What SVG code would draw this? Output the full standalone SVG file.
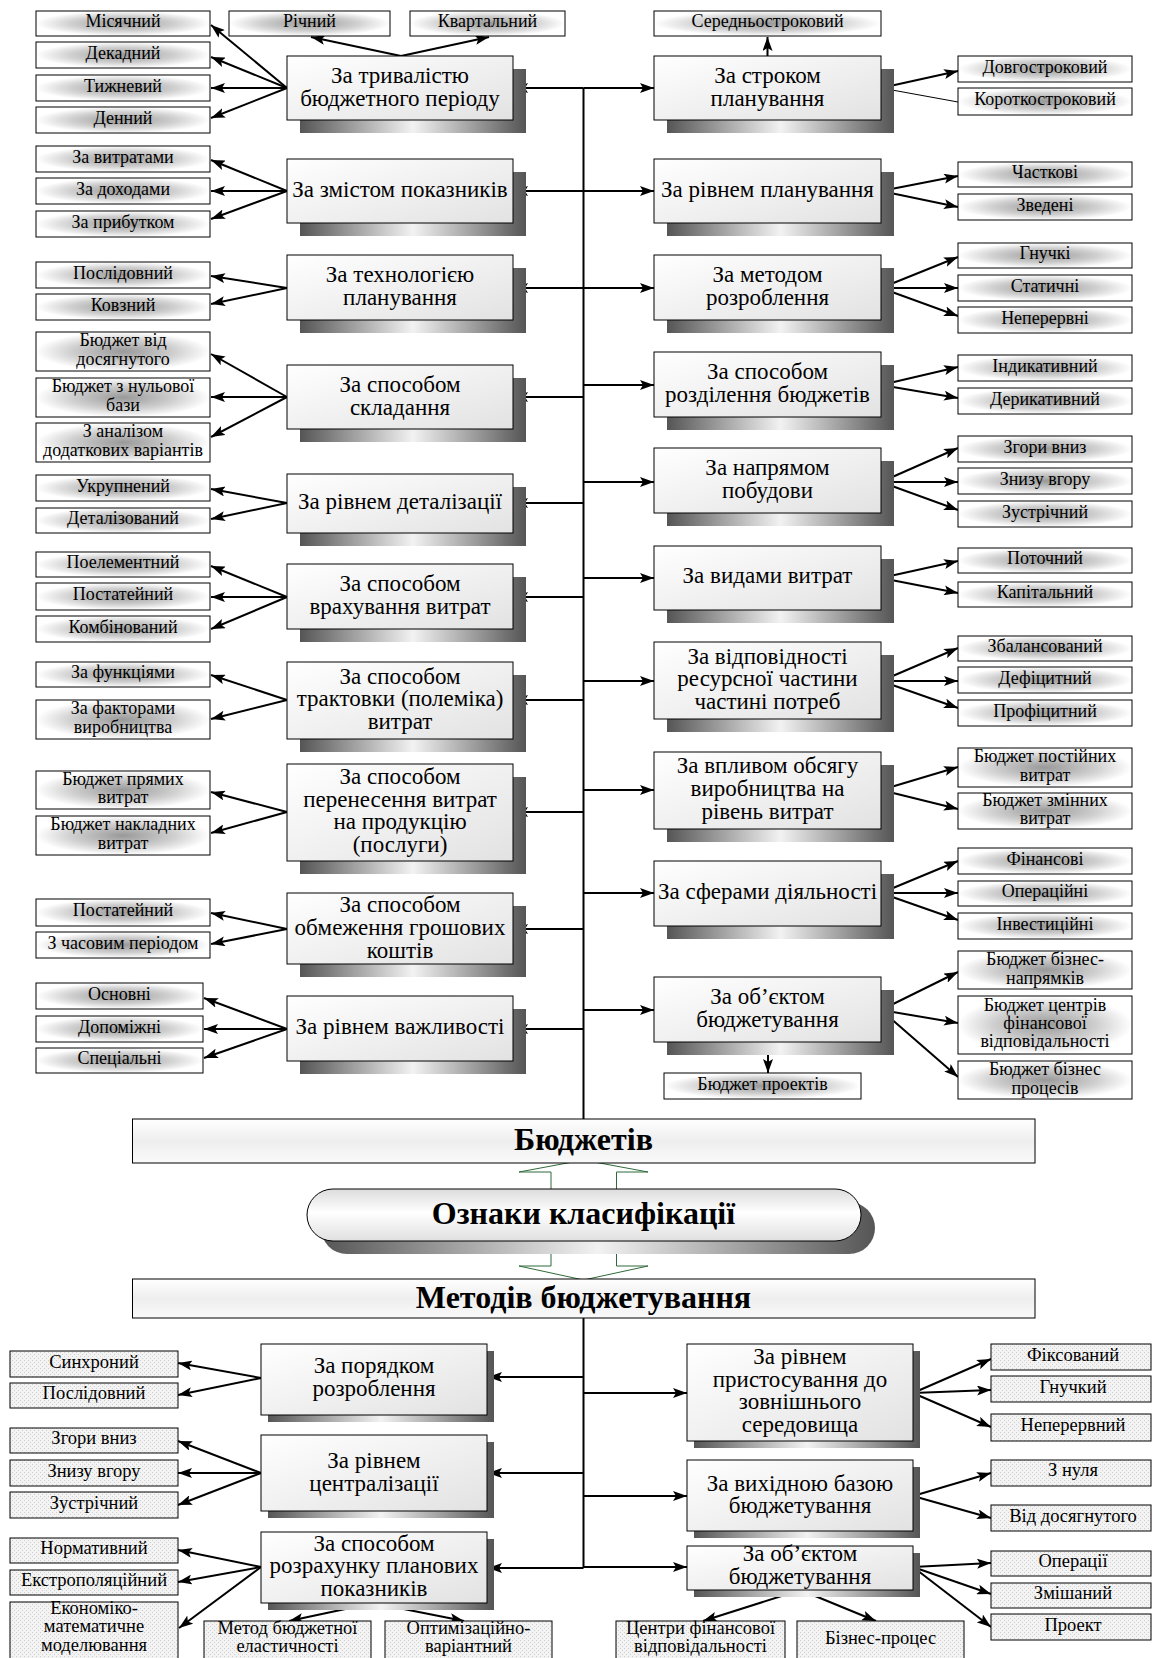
<svg xmlns="http://www.w3.org/2000/svg" width="1153" height="1658" viewBox="0 0 1153 1658">
<defs>
<radialGradient id="leafG" cx="0.5" cy="0.5" r="0.5">
<stop offset="0" stop-color="#999999"/><stop offset="0.6" stop-color="#d0d0d0"/><stop offset="1" stop-color="#ffffff"/>
</radialGradient>
<linearGradient id="mainG" x1="0" y1="0" x2="1" y2="1">
<stop offset="0" stop-color="#ffffff"/><stop offset="1" stop-color="#e2e2e2"/>
</linearGradient>
<linearGradient id="shG" x1="0" y1="0" x2="1" y2="0">
<stop offset="0" stop-color="#555555"/><stop offset="0.5" stop-color="#f2f2f2"/><stop offset="1" stop-color="#555555"/>
</linearGradient>
<linearGradient id="barG" x1="0" y1="0" x2="0" y2="1">
<stop offset="0" stop-color="#ffffff"/><stop offset="0.5" stop-color="#eeeeee"/><stop offset="1" stop-color="#fafafa"/>
</linearGradient>
<linearGradient id="capG" x1="0" y1="0" x2="0" y2="1">
<stop offset="0" stop-color="#dcdcdc"/><stop offset="0.45" stop-color="#ffffff"/><stop offset="1" stop-color="#e0e0e0"/>
</linearGradient>
<pattern id="dots" patternUnits="userSpaceOnUse" width="4" height="4">
<rect width="4" height="4" fill="#f3f3f3"/><rect width="1" height="1" fill="#cfcfcf"/><rect x="2" y="2" width="1" height="1" fill="#cfcfcf"/>
</pattern>
<marker id="ah" markerUnits="userSpaceOnUse" markerWidth="14" markerHeight="10" refX="14" refY="5" orient="auto">
<path d="M0,0 L14,5 L0,10 L3,5 Z" fill="#000"/>
</marker>
</defs>
<style>
.lf{fill:url(#leafG);stroke:#000;stroke-width:1}
.lfb{fill:url(#dots);stroke:#000;stroke-width:1}
.mb{fill:url(#mainG);stroke:#000;stroke-width:1}
.sh{fill:url(#shG)}
.t{font-family:"Liberation Serif","Times New Roman",serif;text-anchor:middle;dominant-baseline:central;fill:#000;transform:translate(0px,-2px)}
.tm{font-size:23px}
.tl{font-size:18px}
.tb{font-size:18.5px}
.big{font-size:32px;font-weight:bold}
.c{stroke:#000;stroke-width:2;fill:none;marker-end:url(#ah)}
.cn{stroke:#000;stroke-width:1;fill:none}
.sp{stroke:#000;stroke-width:2;fill:none}
.gr{fill:#fff;stroke:#2f6b3a;stroke-width:1}
</style>
<rect width="1153" height="1658" fill="#fff"/>

<g id="connectors">
<line class="sp" x1="583.5" y1="88" x2="583.5" y2="1119"/>
<line class="sp" x1="583.5" y1="1318" x2="583.5" y2="1568"/>
<line class="c" x1="583.5" y1="88" x2="514" y2="88"/>
<line class="c" x1="583.5" y1="191" x2="514" y2="191"/>
<line class="c" x1="583.5" y1="288" x2="514" y2="288"/>
<line class="c" x1="583.5" y1="397" x2="514" y2="397"/>
<line class="c" x1="583.5" y1="503" x2="514" y2="503"/>
<line class="c" x1="583.5" y1="597" x2="514" y2="597"/>
<line class="c" x1="583.5" y1="700" x2="514" y2="700"/>
<line class="c" x1="583.5" y1="812" x2="514" y2="812"/>
<line class="c" x1="583.5" y1="929" x2="514" y2="929"/>
<line class="c" x1="583.5" y1="1029" x2="514" y2="1029"/>
<line class="c" x1="583.5" y1="88" x2="654" y2="88"/>
<line class="c" x1="583.5" y1="191" x2="654" y2="191"/>
<line class="c" x1="583.5" y1="288" x2="654" y2="288"/>
<line class="c" x1="583.5" y1="385" x2="654" y2="385"/>
<line class="c" x1="583.5" y1="482" x2="654" y2="482"/>
<line class="c" x1="583.5" y1="578" x2="654" y2="578"/>
<line class="c" x1="583.5" y1="681" x2="654" y2="681"/>
<line class="c" x1="583.5" y1="790" x2="654" y2="790"/>
<line class="c" x1="583.5" y1="893" x2="654" y2="893"/>
<line class="c" x1="583.5" y1="1010" x2="654" y2="1010"/>
<line class="c" x1="287" y1="88" x2="211" y2="25"/>
<line class="c" x1="287" y1="88" x2="211" y2="57"/>
<line class="c" x1="287" y1="88" x2="211" y2="88"/>
<line class="c" x1="287" y1="88" x2="211" y2="118"/>
<line class="c" x1="401" y1="56" x2="311" y2="37"/>
<line class="c" x1="401" y1="56" x2="489" y2="37"/>
<line class="c" x1="287" y1="191" x2="211" y2="160"/>
<line class="c" x1="287" y1="191" x2="211" y2="191"/>
<line class="c" x1="287" y1="191" x2="211" y2="219"/>
<line class="c" x1="287" y1="288" x2="211" y2="276"/>
<line class="c" x1="287" y1="288" x2="211" y2="304"/>
<line class="c" x1="287" y1="397" x2="211" y2="354"/>
<line class="c" x1="287" y1="397" x2="211" y2="397"/>
<line class="c" x1="287" y1="397" x2="211" y2="437"/>
<line class="c" x1="287" y1="503" x2="211" y2="489"/>
<line class="c" x1="287" y1="503" x2="211" y2="519"/>
<line class="c" x1="287" y1="597" x2="211" y2="566"/>
<line class="c" x1="287" y1="597" x2="211" y2="597"/>
<line class="c" x1="287" y1="597" x2="211" y2="629"/>
<line class="c" x1="287" y1="700" x2="211" y2="675"/>
<line class="c" x1="287" y1="700" x2="211" y2="719"/>
<line class="c" x1="287" y1="812" x2="211" y2="792"/>
<line class="c" x1="287" y1="812" x2="211" y2="833"/>
<line class="c" x1="287" y1="929" x2="211" y2="913"/>
<line class="c" x1="287" y1="929" x2="211" y2="944"/>
<line class="c" x1="287" y1="1029" x2="204" y2="998"/>
<line class="c" x1="287" y1="1029" x2="204" y2="1029"/>
<line class="c" x1="287" y1="1029" x2="204" y2="1058"/>
<line class="c" x1="767.5" y1="56" x2="767.5" y2="37"/>
<line class="c" x1="881" y1="88" x2="958" y2="71"/>
<line class="cn" x1="881" y1="88" x2="958" y2="102"/>
<line class="c" x1="881" y1="191" x2="958" y2="176"/>
<line class="c" x1="881" y1="191" x2="958" y2="207"/>
<line class="c" x1="881" y1="288" x2="958" y2="257"/>
<line class="c" x1="881" y1="288" x2="958" y2="288"/>
<line class="c" x1="881" y1="288" x2="958" y2="316"/>
<line class="c" x1="881" y1="385" x2="958" y2="367"/>
<line class="c" x1="881" y1="385" x2="958" y2="398"/>
<line class="c" x1="881" y1="482" x2="958" y2="448"/>
<line class="c" x1="881" y1="482" x2="958" y2="482"/>
<line class="c" x1="881" y1="482" x2="958" y2="510"/>
<line class="c" x1="881" y1="578" x2="958" y2="561"/>
<line class="c" x1="881" y1="578" x2="958" y2="593"/>
<line class="c" x1="881" y1="681" x2="958" y2="648"/>
<line class="c" x1="881" y1="681" x2="958" y2="681"/>
<line class="c" x1="881" y1="681" x2="958" y2="708"/>
<line class="c" x1="881" y1="790" x2="958" y2="767"/>
<line class="c" x1="881" y1="790" x2="958" y2="809"/>
<line class="c" x1="881" y1="893" x2="958" y2="861"/>
<line class="c" x1="881" y1="893" x2="958" y2="893"/>
<line class="c" x1="881" y1="893" x2="958" y2="920"/>
<line class="c" x1="881" y1="1010" x2="958" y2="972"/>
<line class="c" x1="881" y1="1010" x2="958" y2="1023"/>
<line class="c" x1="881" y1="1010" x2="958" y2="1077"/>
<line class="c" x1="768" y1="1042" x2="768" y2="1073"/>
<line class="c" x1="583.5" y1="1377" x2="488" y2="1377"/>
<line class="c" x1="583.5" y1="1473" x2="488" y2="1473"/>
<line class="c" x1="583.5" y1="1568" x2="488" y2="1568"/>
<line class="c" x1="583.5" y1="1393" x2="687" y2="1393"/>
<line class="c" x1="583.5" y1="1496" x2="687" y2="1496"/>
<line class="c" x1="583.5" y1="1567" x2="687" y2="1567"/>
<line class="c" x1="261" y1="1378" x2="178" y2="1363"/>
<line class="c" x1="261" y1="1378" x2="178" y2="1395"/>
<line class="c" x1="261" y1="1473" x2="178" y2="1441"/>
<line class="c" x1="261" y1="1473" x2="178" y2="1473"/>
<line class="c" x1="261" y1="1473" x2="178" y2="1505"/>
<line class="c" x1="261" y1="1567" x2="178" y2="1550"/>
<line class="c" x1="261" y1="1567" x2="178" y2="1582"/>
<line class="c" x1="261" y1="1567" x2="179" y2="1628"/>
<line class="c" x1="373.5" y1="1603" x2="289" y2="1621"/>
<line class="c" x1="373.5" y1="1603" x2="464" y2="1621"/>
<line class="c" x1="913" y1="1393" x2="991" y2="1359"/>
<line class="c" x1="913" y1="1393" x2="991" y2="1390"/>
<line class="c" x1="913" y1="1393" x2="991" y2="1427"/>
<line class="c" x1="913" y1="1496" x2="991" y2="1473"/>
<line class="c" x1="913" y1="1496" x2="991" y2="1518"/>
<line class="c" x1="913" y1="1567" x2="991" y2="1563"/>
<line class="c" x1="913" y1="1567" x2="991" y2="1594"/>
<line class="c" x1="913" y1="1567" x2="991" y2="1627"/>
<line class="c" x1="800.5" y1="1590" x2="703" y2="1621"/>
<line class="c" x1="800.5" y1="1590" x2="876" y2="1621"/>
<polygon class="gr" points="551,1196 551,1172 519,1172 583.5,1160 648,1172 616.5,1172 616.5,1196"/>
<polygon class="gr" points="551,1250 551,1266 519,1266 583.5,1280 648,1266 616.5,1266 616.5,1250"/>
</g>

<g id="n-budgets"><rect x="132.5" y="1119" width="902.5" height="44" fill="url(#barG)" stroke="#000" stroke-width="1"/><text class="t big" x="583.5" y="1141">Бюджетів</text></g>
<g id="n-oznaky"><rect x="321" y="1202" width="554" height="52" rx="26" class="sh"/><rect x="307" y="1189" width="554" height="52" rx="26" fill="url(#capG)" stroke="#000" stroke-width="1"/><text class="t big" x="583.5" y="1215">Ознаки класифікації</text></g>
<g id="n-methods"><rect x="132.5" y="1279" width="902.5" height="39" fill="url(#barG)" stroke="#000" stroke-width="1"/><text class="t big" x="583.5" y="1299">Методів бюджетування</text></g>

<g id="L1"><rect class="sh" x="300" y="69" width="226" height="64"/><rect class="mb" x="287" y="56" width="226" height="64"/><text class="t tm"><tspan x="400" y="76.5">За тривалістю</tspan><tspan x="400" y="99.5">бюджетного періоду</tspan></text></g>
<g id="L2"><rect class="sh" x="300" y="172" width="226" height="64"/><rect class="mb" x="287" y="159" width="226" height="64"/><text class="t tm" x="400" y="191">За змістом показників</text></g>
<g id="L3"><rect class="sh" x="300" y="268" width="226" height="65"/><rect class="mb" x="287" y="255" width="226" height="65"/><text class="t tm"><tspan x="400" y="276">За технологією</tspan><tspan x="400" y="299">планування</tspan></text></g>
<g id="L4"><rect class="sh" x="300" y="378" width="226" height="64"/><rect class="mb" x="287" y="365" width="226" height="64"/><text class="t tm"><tspan x="400" y="385.5">За способом</tspan><tspan x="400" y="408.5">складання</tspan></text></g>
<g id="L5"><rect class="sh" x="300" y="487" width="226" height="59"/><rect class="mb" x="287" y="474" width="226" height="59"/><text class="t tm" x="400" y="503">За рівнем деталізації</text></g>
<g id="L6"><rect class="sh" x="300" y="577" width="226" height="65"/><rect class="mb" x="287" y="564" width="226" height="65"/><text class="t tm"><tspan x="400" y="585">За способом</tspan><tspan x="400" y="608">врахування витрат</tspan></text></g>
<g id="L7"><rect class="sh" x="300" y="675" width="226" height="77"/><rect class="mb" x="287" y="662" width="226" height="77"/><text class="t tm"><tspan x="400" y="677.5">За способом</tspan><tspan x="400" y="700">трактовки (полеміка)</tspan><tspan x="400" y="722.5">витрат</tspan></text></g>
<g id="L8"><rect class="sh" x="300" y="777" width="226" height="97"/><rect class="mb" x="287" y="764" width="226" height="97"/><text class="t tm"><tspan x="400" y="778">За способом</tspan><tspan x="400" y="800.5">перенесення витрат</tspan><tspan x="400" y="823">на продукцію</tspan><tspan x="400" y="845.5">(послуги)</tspan></text></g>
<g id="L9"><rect class="sh" x="300" y="906" width="226" height="71"/><rect class="mb" x="287" y="893" width="226" height="71"/><text class="t tm"><tspan x="400" y="906">За способом</tspan><tspan x="400" y="929">обмеження грошових</tspan><tspan x="400" y="952">коштів</tspan></text></g>
<g id="L10"><rect class="sh" x="300" y="1009" width="226" height="65"/><rect class="mb" x="287" y="996" width="226" height="65"/><text class="t tm" x="400" y="1028.5">За рівнем важливості</text></g>

<g id="R1"><rect class="sh" x="667" y="69" width="227" height="64"/><rect class="mb" x="654" y="56" width="227" height="64"/><text class="t tm"><tspan x="767.5" y="76.5">За строком</tspan><tspan x="767.5" y="99.5">планування</tspan></text></g>
<g id="R2"><rect class="sh" x="667" y="172" width="227" height="64"/><rect class="mb" x="654" y="159" width="227" height="64"/><text class="t tm" x="767.5" y="191">За рівнем планування</text></g>
<g id="R3"><rect class="sh" x="667" y="268" width="227" height="65"/><rect class="mb" x="654" y="255" width="227" height="65"/><text class="t tm"><tspan x="767.5" y="276">За методом</tspan><tspan x="767.5" y="299">розроблення</tspan></text></g>
<g id="R4"><rect class="sh" x="667" y="365" width="227" height="65"/><rect class="mb" x="654" y="352" width="227" height="65"/><text class="t tm"><tspan x="767.5" y="373">За способом</tspan><tspan x="767.5" y="396">розділення бюджетів</tspan></text></g>
<g id="R5"><rect class="sh" x="667" y="461" width="227" height="65"/><rect class="mb" x="654" y="448" width="227" height="65"/><text class="t tm"><tspan x="767.5" y="469">За напрямом</tspan><tspan x="767.5" y="492">побудови</tspan></text></g>
<g id="R6"><rect class="sh" x="667" y="559" width="227" height="64"/><rect class="mb" x="654" y="546" width="227" height="64"/><text class="t tm" x="767.5" y="577">За видами витрат</text></g>
<g id="R7"><rect class="sh" x="667" y="655" width="227" height="77"/><rect class="mb" x="654" y="642" width="227" height="77"/><text class="t tm"><tspan x="767.5" y="657.5">За відповідності</tspan><tspan x="767.5" y="680">ресурсної частини</tspan><tspan x="767.5" y="702.5">частині потреб</tspan></text></g>
<g id="R8"><rect class="sh" x="667" y="765" width="227" height="77"/><rect class="mb" x="654" y="752" width="227" height="77"/><text class="t tm"><tspan x="767.5" y="767">За впливом обсягу</tspan><tspan x="767.5" y="790">виробництва на</tspan><tspan x="767.5" y="812.5">рівень витрат</tspan></text></g>
<g id="R9"><rect class="sh" x="667" y="874" width="227" height="65"/><rect class="mb" x="654" y="861" width="227" height="65"/><text class="t tm" x="767.5" y="893">За сферами діяльності</text></g>
<g id="R10"><rect class="sh" x="667" y="990" width="227" height="65"/><rect class="mb" x="654" y="977" width="227" height="65"/><text class="t tm"><tspan x="767.5" y="998">За об’єктом</tspan><tspan x="767.5" y="1021">бюджетування</tspan></text></g>

<g id="l-mis"><rect class="lf" x="36" y="11" width="174" height="25"/><text class="t tl" x="123" y="23">Місячний</text></g>
<g id="l-dek"><rect class="lf" x="36" y="42" width="174" height="26"/><text class="t tl" x="123" y="55">Декадний</text></g>
<g id="l-tyzh"><rect class="lf" x="36" y="75" width="174" height="26"/><text class="t tl" x="123" y="88">Тижневий</text></g>
<g id="l-den"><rect class="lf" x="36" y="107" width="174" height="26"/><text class="t tl" x="123" y="120">Денний</text></g>
<g id="l-rich"><rect class="lf" x="229" y="11" width="161" height="25"/><text class="t tl" x="309.5" y="23">Річний</text></g>
<g id="l-kvart"><rect class="lf" x="410" y="11" width="155" height="25"/><text class="t tl" x="487.5" y="23">Квартальний</text></g>
<g id="l-vytr"><rect class="lf" x="36" y="146" width="174" height="26"/><text class="t tl" x="123" y="159">За витратами</text></g>
<g id="l-dokh"><rect class="lf" x="36" y="178" width="174" height="26"/><text class="t tl" x="123" y="191">За доходами</text></g>
<g id="l-prib"><rect class="lf" x="36" y="211" width="174" height="26"/><text class="t tl" x="123" y="224">За прибутком</text></g>
<g id="l-posl"><rect class="lf" x="36" y="262" width="174" height="26"/><text class="t tl" x="123" y="275">Послідовний</text></g>
<g id="l-kovz"><rect class="lf" x="36" y="294" width="174" height="26"/><text class="t tl" x="123" y="307">Ковзний</text></g>
<g id="l-dosyag"><rect class="lf" x="36" y="332" width="174" height="39"/><text class="t tl"><tspan x="123" y="342">Бюджет від</tspan><tspan x="123" y="361">досягнутого</tspan></text></g>
<g id="l-null"><rect class="lf" x="36" y="378" width="174" height="39"/><text class="t tl"><tspan x="123" y="388">Бюджет з нульової</tspan><tspan x="123" y="407">бази</tspan></text></g>
<g id="l-anal"><rect class="lf" x="36" y="423" width="174" height="39"/><text class="t tl"><tspan x="123" y="433">З аналізом</tspan><tspan x="123" y="452">додаткових варіантів</tspan></text></g>
<g id="l-ukr"><rect class="lf" x="36" y="475" width="174" height="26"/><text class="t tl" x="123" y="488">Укрупнений</text></g>
<g id="l-det"><rect class="lf" x="36" y="508" width="174" height="25"/><text class="t tl" x="123" y="520">Деталізований</text></g>
<g id="l-poel"><rect class="lf" x="36" y="552" width="174" height="25"/><text class="t tl" x="123" y="564">Поелементний</text></g>
<g id="l-post1"><rect class="lf" x="36" y="583" width="174" height="27"/><text class="t tl" x="123" y="596">Постатейний</text></g>
<g id="l-komb"><rect class="lf" x="36" y="616" width="174" height="26"/><text class="t tl" x="123" y="629">Комбінований</text></g>
<g id="l-funk"><rect class="lf" x="36" y="662" width="174" height="25"/><text class="t tl" x="123" y="674">За функціями</text></g>
<g id="l-fakt"><rect class="lf" x="36" y="700" width="174" height="39"/><text class="t tl"><tspan x="123" y="710">За факторами</tspan><tspan x="123" y="729">виробництва</tspan></text></g>
<g id="l-pryam"><rect class="lf" x="36" y="771" width="174" height="38"/><text class="t tl"><tspan x="123" y="781">Бюджет прямих</tspan><tspan x="123" y="799">витрат</tspan></text></g>
<g id="l-nakl"><rect class="lf" x="36" y="816" width="174" height="39"/><text class="t tl"><tspan x="123" y="826">Бюджет накладних</tspan><tspan x="123" y="845">витрат</tspan></text></g>
<g id="l-post2"><rect class="lf" x="36" y="899" width="174" height="27"/><text class="t tl" x="123" y="912">Постатейний</text></g>
<g id="l-chas"><rect class="lf" x="36" y="932" width="174" height="26"/><text class="t tl" x="123" y="945">З часовим періодом</text></g>
<g id="l-osn"><rect class="lf" x="36" y="983" width="167" height="26"/><text class="t tl" x="119.5" y="996">Основні</text></g>
<g id="l-dop"><rect class="lf" x="36" y="1016" width="167" height="26"/><text class="t tl" x="119.5" y="1029">Допоміжні</text></g>
<g id="l-spec"><rect class="lf" x="36" y="1048" width="167" height="25"/><text class="t tl" x="119.5" y="1060">Спеціальні</text></g>

<g id="r-ser"><rect class="lf" x="654" y="11" width="227" height="25"/><text class="t tl" x="767.5" y="23">Середньостроковий</text></g>
<g id="r-dovh"><rect class="lf" x="958" y="56" width="174" height="26"/><text class="t tl" x="1045" y="69">Довгостроковий</text></g>
<g id="r-kor"><rect class="lf" x="958" y="88" width="174" height="27"/><text class="t tl" x="1045" y="101">Короткостроковий</text></g>
<g id="r-chast"><rect class="lf" x="958" y="162" width="174" height="25"/><text class="t tl" x="1045" y="174">Часткові</text></g>
<g id="r-zved"><rect class="lf" x="958" y="194" width="174" height="26"/><text class="t tl" x="1045" y="207">Зведені</text></g>
<g id="r-hnuch"><rect class="lf" x="958" y="243" width="174" height="25"/><text class="t tl" x="1045" y="255">Гнучкі</text></g>
<g id="r-stat"><rect class="lf" x="958" y="275" width="174" height="26"/><text class="t tl" x="1045" y="288">Статичні</text></g>
<g id="r-neper"><rect class="lf" x="958" y="307" width="174" height="26"/><text class="t tl" x="1045" y="320">Неперервні</text></g>
<g id="r-ind"><rect class="lf" x="958" y="355" width="174" height="26"/><text class="t tl" x="1045" y="368">Індикативний</text></g>
<g id="r-der"><rect class="lf" x="958" y="388" width="174" height="26"/><text class="t tl" x="1045" y="401">Дерикативний</text></g>
<g id="r-zhory"><rect class="lf" x="958" y="436" width="174" height="26"/><text class="t tl" x="1045" y="449">Згори вниз</text></g>
<g id="r-znyzu"><rect class="lf" x="958" y="468" width="174" height="26"/><text class="t tl" x="1045" y="481">Знизу вгору</text></g>
<g id="r-zustr"><rect class="lf" x="958" y="501" width="174" height="26"/><text class="t tl" x="1045" y="514">Зустрічний</text></g>
<g id="r-potoch"><rect class="lf" x="958" y="548" width="174" height="25"/><text class="t tl" x="1045" y="560">Поточний</text></g>
<g id="r-kapit"><rect class="lf" x="958" y="582" width="174" height="25"/><text class="t tl" x="1045" y="594">Капітальний</text></g>
<g id="r-zbal"><rect class="lf" x="958" y="636" width="174" height="25"/><text class="t tl" x="1045" y="648">Збалансований</text></g>
<g id="r-defic"><rect class="lf" x="958" y="667" width="174" height="26"/><text class="t tl" x="1045" y="680">Дефіцитний</text></g>
<g id="r-profic"><rect class="lf" x="958" y="700" width="174" height="26"/><text class="t tl" x="1045" y="713">Профіцитний</text></g>
<g id="r-post"><rect class="lf" x="958" y="748" width="174" height="39"/><text class="t tl"><tspan x="1045" y="758">Бюджет постійних</tspan><tspan x="1045" y="777">витрат</tspan></text></g>
<g id="r-zmin"><rect class="lf" x="958" y="793" width="174" height="36"/><text class="t tl"><tspan x="1045" y="802">Бюджет змінних</tspan><tspan x="1045" y="820">витрат</tspan></text></g>
<g id="r-fin"><rect class="lf" x="958" y="848" width="174" height="26"/><text class="t tl" x="1045" y="861">Фінансові</text></g>
<g id="r-oper"><rect class="lf" x="958" y="881" width="174" height="25"/><text class="t tl" x="1045" y="893">Операційні</text></g>
<g id="r-inv"><rect class="lf" x="958" y="913" width="174" height="26"/><text class="t tl" x="1045" y="926">Інвестиційні</text></g>
<g id="r-bizn"><rect class="lf" x="958" y="951" width="174" height="38"/><text class="t tl"><tspan x="1045" y="961">Бюджет бізнес-</tspan><tspan x="1045" y="980">напрямків</tspan></text></g>
<g id="r-cfv"><rect class="lf" x="958" y="996" width="174" height="58"/><text class="t tl"><tspan x="1045" y="1007">Бюджет центрів</tspan><tspan x="1045" y="1025">фінансової</tspan><tspan x="1045" y="1043">відповідальності</tspan></text></g>
<g id="r-bproc"><rect class="lf" x="958" y="1061" width="174" height="38"/><text class="t tl"><tspan x="1045" y="1071">Бюджет бізнес</tspan><tspan x="1045" y="1090">процесів</tspan></text></g>
<g id="r-proekt"><rect class="lf" x="664" y="1073" width="197" height="26"/><text class="t tl" x="762.5" y="1086">Бюджет проектів</text></g>

<g id="B-L1"><rect class="sh" x="268" y="1351" width="226" height="71"/><rect class="mb" x="261" y="1344" width="226" height="71"/><text class="t tm"><tspan x="374" y="1367">За порядком</tspan><tspan x="374" y="1390">розроблення</tspan></text></g>
<g id="B-L2"><rect class="sh" x="268" y="1442" width="226" height="76"/><rect class="mb" x="261" y="1435" width="226" height="76"/><text class="t tm"><tspan x="374" y="1462">За рівнем</tspan><tspan x="374" y="1485">централізації</tspan></text></g>
<g id="B-L3"><rect class="sh" x="268" y="1539" width="226" height="71"/><rect class="mb" x="261" y="1532" width="226" height="71"/><text class="t tm"><tspan x="374" y="1545">За способом</tspan><tspan x="374" y="1567">розрахунку планових</tspan><tspan x="374" y="1590">показників</tspan></text></g>
<g id="B-R1"><rect class="sh" x="694" y="1351" width="226" height="97"/><rect class="mb" x="687" y="1344" width="226" height="97"/><text class="t tm"><tspan x="800" y="1358">За рівнем</tspan><tspan x="800" y="1380.5">пристосування до</tspan><tspan x="800" y="1403">зовнішнього</tspan><tspan x="800" y="1425.5">середовища</tspan></text></g>
<g id="B-R2"><rect class="sh" x="694" y="1467" width="226" height="71"/><rect class="mb" x="687" y="1460" width="226" height="71"/><text class="t tm"><tspan x="800" y="1485">За вихідною базою</tspan><tspan x="800" y="1507">бюджетування</tspan></text></g>
<g id="B-R3"><rect class="sh" x="694" y="1553" width="226" height="44"/><rect class="mb" x="687" y="1546" width="226" height="44"/><text class="t tm"><tspan x="800" y="1555">За об’єктом</tspan><tspan x="800" y="1578">бюджетування</tspan></text></g>

<g id="b-synkh"><rect class="lfb" x="10" y="1351" width="168" height="26"/><text class="t tb" x="94" y="1364">Синхроний</text></g>
<g id="b-posl"><rect class="lfb" x="10" y="1383" width="168" height="25"/><text class="t tb" x="94" y="1395">Послідовний</text></g>
<g id="b-zhory"><rect class="lfb" x="10" y="1428" width="168" height="25"/><text class="t tb" x="94" y="1440">Згори вниз</text></g>
<g id="b-znyzu"><rect class="lfb" x="10" y="1460" width="168" height="26"/><text class="t tb" x="94" y="1473">Знизу вгору</text></g>
<g id="b-zustr"><rect class="lfb" x="10" y="1492" width="168" height="26"/><text class="t tb" x="94" y="1505">Зустрічний</text></g>
<g id="b-norm"><rect class="lfb" x="10" y="1538" width="168" height="25"/><text class="t tb" x="94" y="1550">Нормативний</text></g>
<g id="b-ekstr"><rect class="lfb" x="10" y="1570" width="168" height="25"/><text class="t tb" x="94" y="1582">Екстрополяційний</text></g>
<g id="b-ekon"><rect class="lfb" x="10" y="1602" width="168" height="64"/><text class="t tb"><tspan x="94" y="1610">Економіко-</tspan><tspan x="94" y="1628">математичне</tspan><tspan x="94" y="1647">моделювання</tspan></text></g>
<g id="b-elast"><rect class="lfb" x="204" y="1621" width="167" height="45"/><text class="t tb"><tspan x="287.5" y="1630">Метод бюджетної</tspan><tspan x="287.5" y="1648">еластичності</tspan></text></g>
<g id="b-optim"><rect class="lfb" x="385" y="1621" width="167" height="45"/><text class="t tb"><tspan x="468.5" y="1630">Оптимізаційно-</tspan><tspan x="468.5" y="1648">варіантний</tspan></text></g>
<g id="b-cfv"><rect class="lfb" x="616" y="1621" width="169" height="45"/><text class="t tb"><tspan x="700.5" y="1630">Центри фінансової</tspan><tspan x="700.5" y="1648">відповідальності</tspan></text></g>
<g id="b-bp"><rect class="lfb" x="797" y="1621" width="167" height="45"/><text class="t tb" x="880.5" y="1640">Бізнес-процес</text></g>
<g id="b-fiks"><rect class="lfb" x="991" y="1344" width="160" height="26"/><text class="t tb" x="1073" y="1357">Фіксований</text></g>
<g id="b-hnuch"><rect class="lfb" x="991" y="1376" width="160" height="26"/><text class="t tb" x="1073" y="1389">Гнучкий</text></g>
<g id="b-neper"><rect class="lfb" x="991" y="1414" width="160" height="27"/><text class="t tb" x="1073" y="1427">Неперервний</text></g>
<g id="b-znul"><rect class="lfb" x="991" y="1460" width="160" height="26"/><text class="t tb" x="1073" y="1472">З нуля</text></g>
<g id="b-vid"><rect class="lfb" x="991" y="1505" width="160" height="26"/><text class="t tb" x="1073" y="1518">Від досягнутого</text></g>
<g id="b-oper"><rect class="lfb" x="991" y="1551" width="160" height="25"/><text class="t tb" x="1073" y="1563">Операції</text></g>
<g id="b-zmish"><rect class="lfb" x="991" y="1583" width="160" height="25"/><text class="t tb" x="1073" y="1595">Змішаний</text></g>
<g id="b-proekt"><rect class="lfb" x="991" y="1614" width="160" height="26"/><text class="t tb" x="1073" y="1627">Проект</text></g>
</svg>
